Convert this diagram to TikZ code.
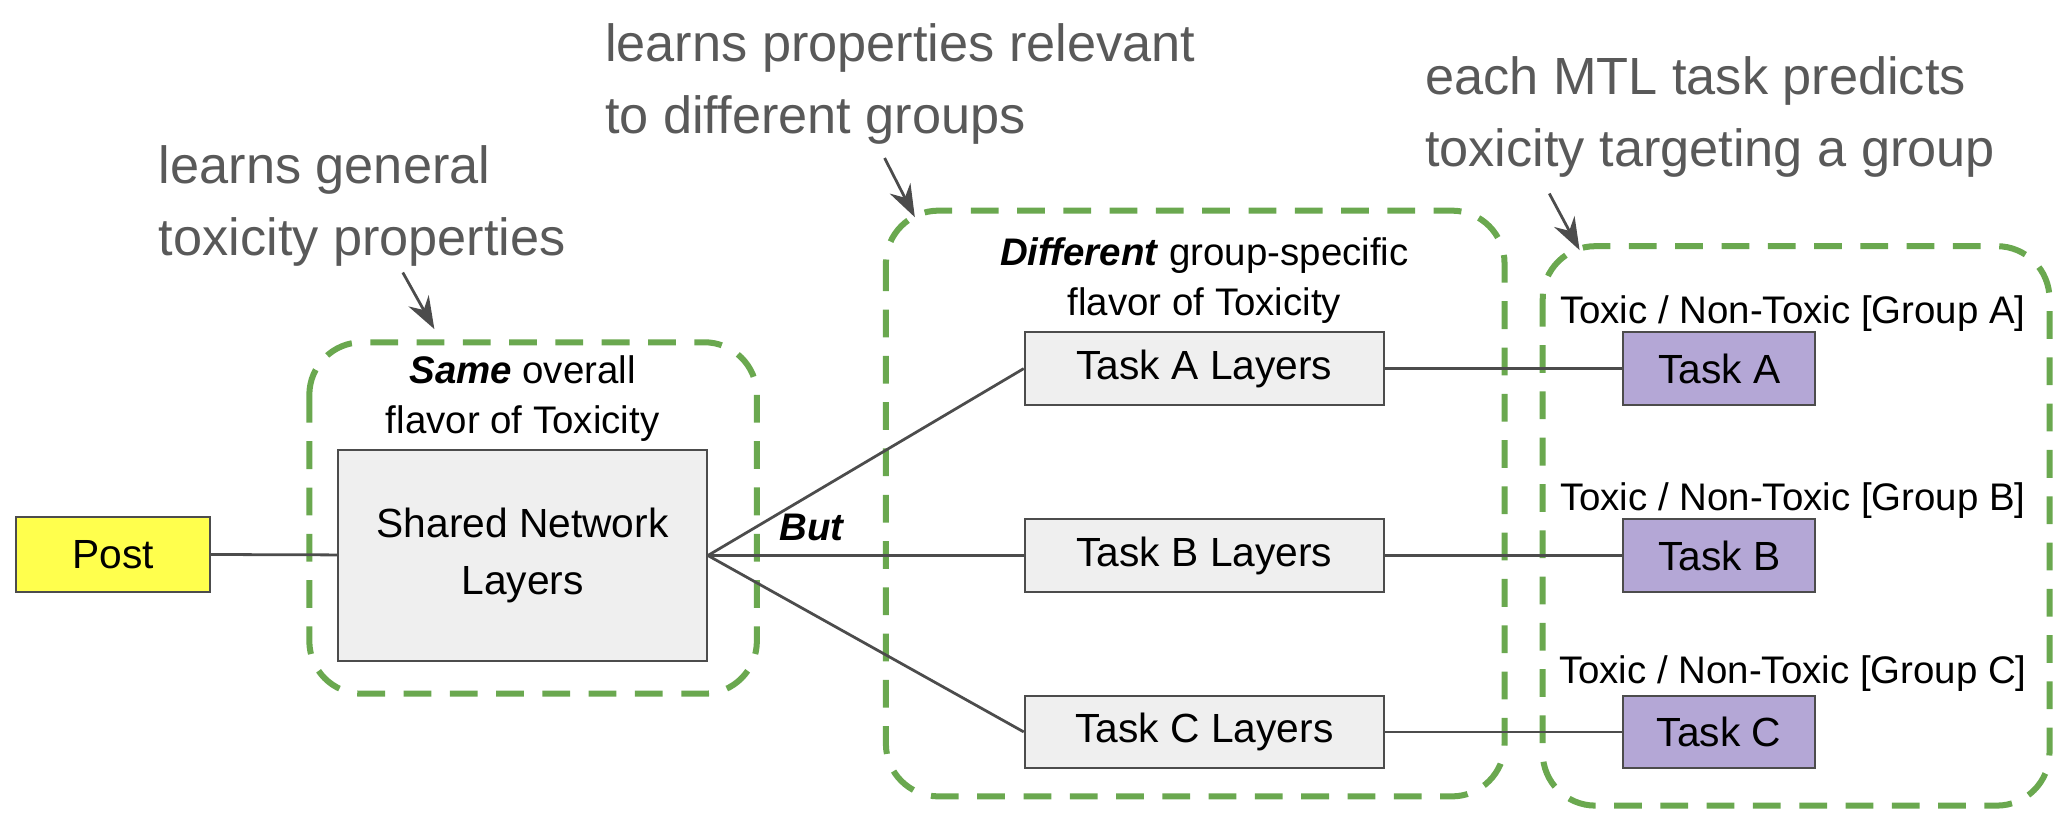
\documentclass[tikz,border=0pt]{standalone}
\usepackage{fontspec}
\setmainfont{Liberation Sans}
\usetikzlibrary{arrows.meta}
\definecolor{boxgray}{HTML}{EFEFEF}
\definecolor{taskpurple}{HTML}{B4A7D6}
\definecolor{postyellow}{HTML}{FFFF4D}
\definecolor{groupgreen}{HTML}{6AA84F}
\definecolor{notegray}{HTML}{595959}
\tikzset{
  every picture/.style={
    >={Stealth[width=5pt, length=7pt]}
  },
  block/.style={
    draw=black!70, fill=boxgray, inner sep=0pt,
    font=\fontsize{8.8}{12.5}\selectfont
  },
  layer/.style={
    block, minimum width=2.73cm, minimum height=0.55cm
  },
  task/.style={
    block, fill=taskpurple, minimum width=1.46cm, minimum height=0.55cm
  },
  group/.style={
    draw=groupgreen, line width=1.3pt, dash pattern=on 6pt off 4pt,
    rounded corners=0.4cm
  },
  note/.style={
    text=notegray, align=left, anchor=north west, inner sep=0pt,
    font=\fontsize{11.3}{15.6}\selectfont
  },
  caption/.style={
    align=center, font=\fontsize{8.3}{10.8}\selectfont
  },
  link/.style={draw=black!70, line width=0.6pt},
  pointer/.style={->, draw=black!70, line width=0.6pt}
}
\begin{document}
\begin{tikzpicture}[x=0.01cm, y=-0.01cm]
  \useasboundingbox (0,0) rectangle (1568,623);
  % dashed groups
  \draw[group] (235,260) rectangle (575,527);
  \draw[group] (673,160) rectangle (1143,605);
  \draw[group] (1172,187) rectangle (1557,612);
  % blocks
  \node[block, fill=postyellow, minimum width=1.47cm, minimum height=0.57cm] (post) at (86,421) {Post};
  \node[block, minimum width=2.8cm, minimum height=1.6cm, align=center] (shared) at (397,422) {Shared Network\\Layers};
  \node[layer] (layA) at (915,280) {Task A Layers};
  \node[layer] (layB) at (915,422) {Task B Layers};
  \node[layer] (layC) at (915,556) {Task C Layers};
  \node[task] (taskA) at (1306,280) {Task A};
  \node[task] (taskB) at (1306,422) {Task B};
  \node[task] (taskC) at (1306,556) {Task C};
  % captions
  \node[caption] (same) at (397,303) {\textbf{\textit{Same}} overall\\flavor of Toxicity};
  \node[caption] (diff) at (915,213) {\textbf{\textit{Different}} group-specific\\flavor of Toxicity};
  \node[caption] (capA) at (1362,238) {Toxic / Non-Toxic [Group A]};
  \node[caption] (capB) at (1362,380) {Toxic / Non-Toxic [Group B]};
  \node[caption] (capC) at (1362,512) {Toxic / Non-Toxic [Group C]};
  \node[caption] (but) at (617,401) {\textbf{\textit{But}}};
  % connectors
  \draw[link] (post) -- (shared);
  \foreach \t in {A,B,C}{
    \draw[link] (shared.east) -- (lay\t.west);
    \draw[link] (lay\t) -- (task\t);
  }
  % notes
  \node[note] (noteL) at (120,110) {learns general\\toxicity properties};
  \node[note] (noteM) at (459,17) {learns properties relevant\\to different groups};
  \node[note] (noteR) at (1082,42) {each MTL task predicts\\toxicity targeting a group};
  \coordinate (tipL) at (330,250);
  \coordinate (tipM) at (695,165);
  \coordinate (tipR) at (1200,190);
  \draw[pointer] (306,207) -- (tipL);
  \draw[pointer] (672,120) -- (tipM);
  \draw[pointer] (1177,147) -- (tipR);
\end{tikzpicture}
\end{document}
